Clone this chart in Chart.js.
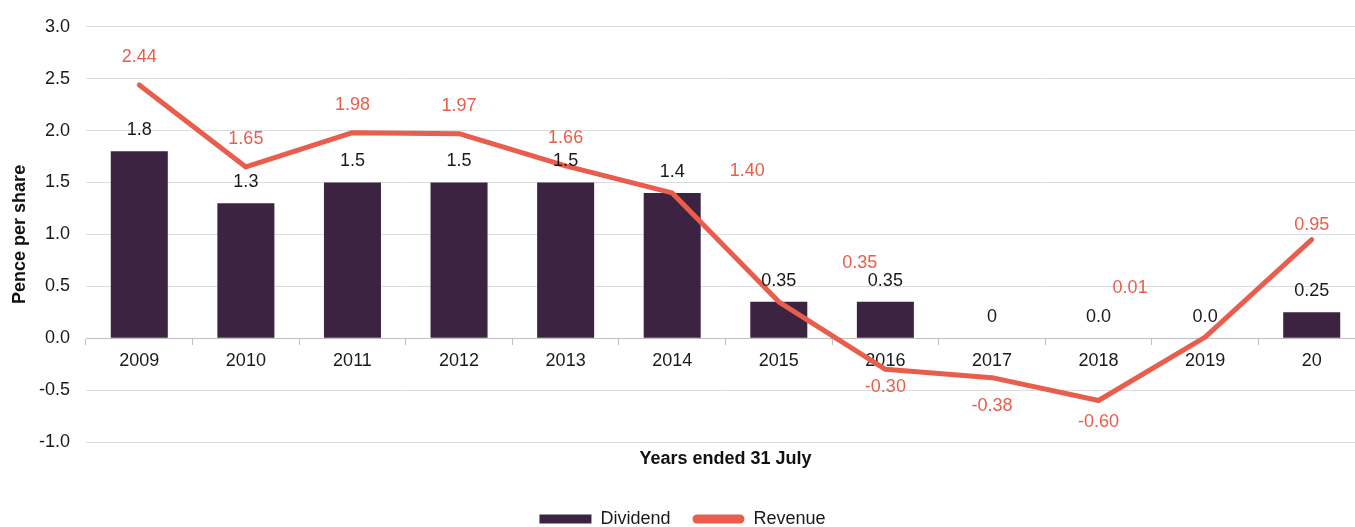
<!DOCTYPE html>
<html>
<head>
<meta charset="utf-8">
<script src="https://cdn.jsdelivr.net/npm/chart.js@4"></script>
<style>
  html, body { margin: 0; padding: 0; background: #fff; overflow: hidden; }
  #wrap { width: 1365px; height: 538px; }
</style>
</head>
<body>
<div id="wrap"><canvas id="chart" width="1365" height="538"></canvas></div>
<script>
// === Data ===
const years = ['2009', '2010', '2011', '2012', '2013', '2014', '2015', '2016', '2017', '2018', '2019', '20'];
const dividend = [1.8, 1.3, 1.5, 1.5, 1.5, 1.4, 0.35, 0.35, 0, 0, 0, 0.25];
const dividendLabels = ['1.8', '1.3', '1.5', '1.5', '1.5', '1.4', '0.35', '0.35', '0', '0.0', '0.0', '0.25'];
const revenue = [2.44, 1.65, 1.98, 1.97, 1.66, 1.40, 0.35, -0.30, -0.38, -0.60, 0.01, 0.95];
const yTicks = [-1.0, -0.5, 0.0, 0.5, 1.0, 1.5, 2.0, 2.5, 3.0];

const FONT = 'Arial, "Liberation Sans", sans-serif';
const DARK = '#3c2342';
const RED = '#e85d4c';

// where the revenue labels sit, relative to their point (dx, dy in px)
const revenueLabelShift = [
  [0, -28], [0, -28], [0, -28], [0, -28], [0, -28], [75, -22],
  [81, -39], [0, 18], [0, 28], [0, 22], [-75, -49], [0, -15]
];

// === Data labels ===
const labelPlugin = {
  id: 'labels',
  afterDatasetsDraw(chart) {
    const ctx = chart.ctx;
    ctx.save();
    ctx.font = '18px ' + FONT;
    ctx.textAlign = 'center';
    ctx.textBaseline = 'middle';

    chart.getDatasetMeta(0).data.forEach((bar, i) => {
      ctx.fillStyle = '#1a1a1a';
      ctx.fillText(dividendLabels[i], bar.x, bar.y - 21);
    });

    chart.getDatasetMeta(1).data.forEach((pt, i) => {
      const [dx, dy] = revenueLabelShift[i];
      ctx.fillStyle = RED;
      ctx.fillText(revenue[i].toFixed(2), pt.x + dx, pt.y + dy);
    });
    ctx.restore();
  }
};

// === Chart ===
window.addEventListener('load', () => {
  const ctx = document.getElementById('chart').getContext('2d');
  new Chart(ctx, {
    type: 'bar',
    data: {
      labels: years,
      datasets: [
        {
          type: 'bar',
          label: 'Dividend',
          data: dividend,
          backgroundColor: DARK,
          borderWidth: 0,
          barPercentage: 0.535,
          categoryPercentage: 1,
          order: 1
        },
        {
          type: 'line',
          label: 'Revenue',
          data: revenue,
          borderColor: RED,
          backgroundColor: RED,
          borderWidth: 5,
          borderCapStyle: 'round',
          borderJoinStyle: 'round',
          pointRadius: 0,
          tension: 0,
          order: 0
        }
      ]
    },
    options: {
      responsive: false,
      devicePixelRatio: 1,
      animation: false,
      layout: { padding: { top: 25, left: 0, right: 0, bottom: 0 } },
      scales: {
        x: {
          position: { y: 0 },
          offset: true,
          grid: {
            offset: true,
            drawOnChartArea: false,
            drawTicks: true,
            tickLength: 6,
            color: '#bfbfbf'
          },
          border: { display: true, color: '#bfbfbf', width: 1 },
          ticks: {
            color: '#1a1a1a',
            font: { family: FONT, size: 18 },
            padding: 6,
            maxRotation: 0,
            autoSkip: false
          }
        },
        x2: {
          type: 'category',
          position: 'bottom',
          grid: { display: false },
          border: { display: false },
          ticks: { display: false },
          title: {
            display: true,
            text: 'Years ended 31 July',
            color: '#111',
            font: { family: FONT, size: 18, weight: 'bold' },
            padding: { top: 0, bottom: 18 }
          },
          afterFit: scale => { scale.height = 46; }
        },
        y: {
          min: -1,
          max: 3,
          afterBuildTicks: scale => { scale.ticks = yTicks.map(v => ({ value: v })); },
          grid: { color: '#dcdcdc', lineWidth: 1, drawTicks: false },
          border: { display: false },
          ticks: {
            color: '#1a1a1a',
            font: { family: FONT, size: 18 },
            padding: 16,
            callback: v => v.toFixed(1)
          },
          title: {
            display: true,
            text: 'Pence per share',
            color: '#111',
            font: { family: FONT, size: 18, weight: 'bold' },
            padding: { top: 9, bottom: 0 }
          },
          afterFit: scale => { scale.width = 86; }
        }
      },
      plugins: {
        legend: {
          position: 'bottom',
          labels: {
            color: '#1a1a1a',
            font: { family: FONT, size: 18 },
            boxWidth: 52,
            boxHeight: 9,
            padding: 22,
            useBorderRadius: true,
            sort: (a, b) => a.datasetIndex - b.datasetIndex,
            generateLabels: chart => {
              const items = Chart.defaults.plugins.legend.labels.generateLabels(chart);
              items.forEach(item => {
                item.lineWidth = 0;
                item.borderRadius = item.datasetIndex === 1 ? 4.5 : 0;
              });
              return items;
            }
          }
        },
        tooltip: { enabled: false }
      }
    },
    plugins: [labelPlugin]
  });
});
</script>
</body>
</html>
